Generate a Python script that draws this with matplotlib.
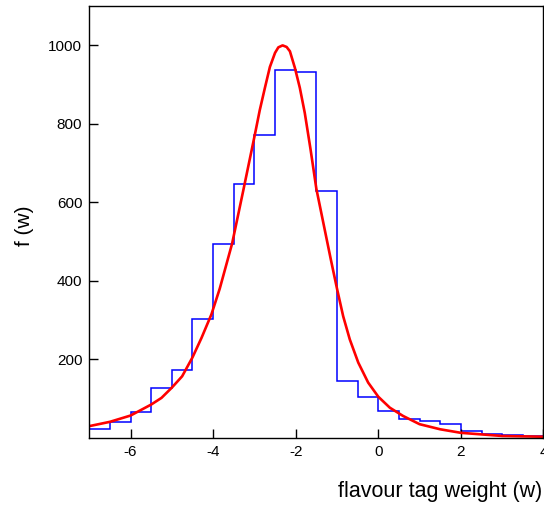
import matplotlib
matplotlib.use('Agg')
import matplotlib.pyplot as plt

plt.rcParams['font.family'] = ['Liberation Sans', 'DejaVu Sans']

# histogram: bin edges and contents
bin_edges = [-7.0, -6.5, -6.0, -5.5, -5.0, -4.5, -4.0, -3.5, -3.0, -2.5, -2.0,
             -1.5, -1.0, -0.5, 0.0, 0.5, 1.0, 1.5, 2.0, 2.5, 3.0, 3.5, 4.0]
bin_counts = [24, 40, 67, 126, 173, 304, 493, 646, 771, 937, 933,
              629, 144, 103, 68, 48, 43, 35, 17, 11, 8, 5]

# fitted curve, points
fit_w = [-7.0, -6.5, -6.0, -5.5, -5.25, -5.0, -4.75, -4.5, -4.28, -4.04, -3.84,
         -3.54, -3.27, -2.99, -2.87, -2.745, -2.625, -2.50, -2.42, -2.317, -2.22,
         -2.14, -2.02, -1.90, -1.78, -1.64, -1.5, -1.148, -0.995, -0.85, -0.69,
         -0.485, -0.245, 0.0, 0.28, 0.60, 1.0, 1.5, 2.0, 3.0, 4.0]
fit_f = [30, 41, 57, 85, 102, 128, 157, 205, 255, 315, 380,
         495, 630, 772, 835, 892, 945, 981, 995, 1000, 996,
         985, 943, 892, 828, 735, 635, 454, 378, 310, 251,
         192, 141, 105, 77, 56, 35, 22, 13, 5, 3]

xticks = [-6, -4, -2, 0, 2, 4]
yticks = [200, 400, 600, 800, 1000]

fig = plt.figure(figsize=(5.44, 5.11), dpi=100)
ax = fig.add_axes([0.164, 0.143, 0.835, 0.845])

ax.stairs(bin_counts, bin_edges, color='#0000ff', linewidth=1.1, baseline=None)
ax.plot(fit_w, fit_f, color='#ff0000', linewidth=1.9, solid_joinstyle='round')

ax.set_xlim(-7, 4)
ax.set_ylim(0, 1100)
ax.set_xticks(xticks)
ax.set_yticks(yticks)
ax.set_xticklabels([str(t) for t in xticks])
ax.tick_params(direction='in', length=6.5, width=1, labelsize=11)
ax.tick_params(axis='x', pad=5)
ax.tick_params(axis='y', pad=5)
for s in ax.spines.values():
    s.set_linewidth(1)

fig.text(25 / 544, 1 - 226 / 511, 'f (w)', fontsize=15, rotation=90,
         ha='center', va='center')
fig.text(0.997, 0.027, 'flavour tag weight (w)', fontsize=15.5, ha='right', va='baseline')

fig.savefig('out.png', dpi=100)
